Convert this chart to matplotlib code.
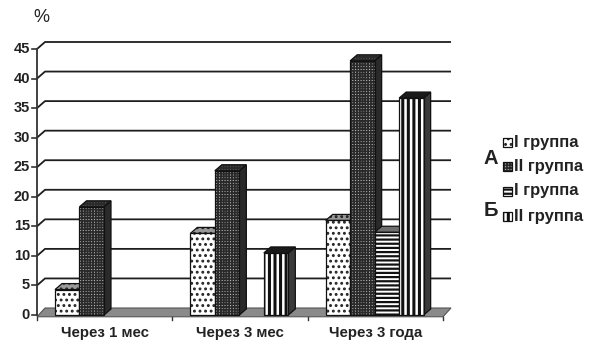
import matplotlib
matplotlib.use('Agg')
import matplotlib.pyplot as plt
from matplotlib.patches import Polygon, Rectangle

# ---------------- data ----------------
categories = ['Через 1 мес', 'Через 3 мес', 'Через 3 года']
a_group_1 = [4.3, 13.8, 16.0]      # А, I группа
a_group_2 = [18.3, 24.4, 43.0]     # А, II группа
b_group_1 = [None, None, 14.0]     # Б, I группа
b_group_2 = [None, 10.5, 36.7]     # Б, II группа
series_labels = ['I группа', 'II группа', 'I группа', 'II группа']
group_letters = ['А', 'Б']
y_ticks = [0, 5, 10, 15, 20, 25, 30, 35, 40, 45]
y_label = '%'

W, H = 595, 342
fig = plt.figure(figsize=(W / 100, H / 100), dpi=100)
# axes: x 0..3 -> px 37..443 ; y 0..45 -> px 315..49 (from top)
ax = fig.add_axes([37 / W, (H - 315) / H, 406 / W, 266 / H])
ax.set_xlim(0, 3)
ax.set_ylim(0, 45)
ax.axis('off')

px_x = 406 / 3.0
px_y = 266 / 45.0
wdx, wdy = 8 / px_x, 7 / px_y    # wall depth offset
bdx, bdy = 7 / px_x, 6 / px_y    # bar depth offset

dark = '#1e1e1e'
txt = '#222222'
fam = 'Liberation Sans'

# back-wall gridlines
for v in y_ticks[1:]:
    ax.plot([0, wdx, 3 + wdx], [v, v + wdy, v + wdy], color=dark, lw=1.3,
            clip_on=False, solid_capstyle='butt', zorder=1)

# floor
floor = Polygon([(0, -0.3), (3, -0.3), (3 + wdx, wdy), (wdx, wdy)], closed=True,
                facecolor='#8a8a8a', edgecolor='#555555', lw=0.8, clip_on=False, zorder=2)
ax.add_patch(floor)

# left axis and ticks
ax.plot([0, 0], [0, 45], color='#333333', lw=1.3, clip_on=False, zorder=3)
for v in y_ticks:
    ax.plot([-5 / px_x, 0], [v, v], color='#333333', lw=1.2, clip_on=False, zorder=3)
    ax.text(-7 / px_x, v, str(v), ha='right', va='center', fontsize=10.5,
            fontweight='bold', family=fam, color=txt)
for i in range(4):
    ax.plot([i, i], [-0.3, -5 / px_y], color='#333333', lw=1.0, clip_on=False, zorder=3)
for i, c in enumerate(categories):
    ax.text(i + 0.5, -18 / px_y, c, ha='center', va='center', fontsize=10.8,
            fontweight='bold', family=fam, color=txt)
fig.text(33 / W, 1 - 18 / H, y_label, ha='left', va='center', fontsize=13,
         family=fam, color=txt)

# styles: front face, hatch colour, hatch, top face, side face, hatch linewidth
styles = [
    dict(fc='white', hc='#222222', hatch='...', top='#9a9a9a', side='#7a7a7a', hlw=1.3),
    dict(fc='#b8b8b8', hc='#2a2a2a', hatch='++++++', top='#555555', side='#2a2a2a', hlw=1.2),
    dict(fc='white', hc='#111111', hatch='----', top='#6e6e6e', side='#333333', hlw=1.6),
    dict(fc='white', hc='#111111', hatch='|||', top='#1a1a1a', side='#3a3a3a', hlw=2.2),
]
series = [a_group_1, a_group_2, b_group_1, b_group_2]

slot = 0.181
start = 0.133


def face(verts, fc, hc=None, hatch=None, hlw=1.0, z=5):
    p = Polygon(verts, closed=True, facecolor=fc, edgecolor=hc if hatch else 'none',
                hatch=hatch, lw=0, zorder=z, clip_on=False)
    if hatch:
        try:
            p.set_hatch_linewidth(hlw)
        except AttributeError:
            pass
    ax.add_patch(p)
    ax.add_patch(Polygon(verts, closed=True, fill=False, edgecolor='#111111',
                         lw=0.9, zorder=z, clip_on=False))


z = 5
for i in range(len(categories)):
    for k, s in enumerate(series):
        v = s[i]
        if v is None:
            continue
        st = styles[k]
        x0 = i + start + k * slot
        x1 = x0 + slot
        front = [(x0, 0), (x1, 0), (x1, v), (x0, v)]
        top = [(x0, v), (x1, v), (x1 + bdx, v + bdy), (x0 + bdx, v + bdy)]
        side = [(x1, 0), (x1 + bdx, bdy), (x1 + bdx, v + bdy), (x1, v)]
        hh = st['hatch'] if k < 2 else None
        face(side, st['side'], st['hc'], hh, st['hlw'], z)
        face(top, st['top'], st['hc'], hh, st['hlw'], z + 0.1)
        face(front, st['fc'], st['hc'], st['hatch'], st['hlw'], z + 0.2)
        z += 1


# legend (figure pixel coordinates from top)
def fx(px):
    return px / W


def fy(py):
    return 1 - py / H


legend_rows = [142, 166, 191, 216]
for k, (lab, ry) in enumerate(zip(series_labels, legend_rows)):
    st = styles[k]
    r = Rectangle((fx(503), fy(ry + 4.5)), 9 / W, 9 / H, transform=fig.transFigure,
                  facecolor=st['fc'], edgecolor=st['hc'], hatch=st['hatch'], lw=0)
    try:
        r.set_hatch_linewidth(st['hlw'])
    except AttributeError:
        pass
    fig.add_artist(r)
    fig.add_artist(Rectangle((fx(503), fy(ry + 4.5)), 9 / W, 9 / H, transform=fig.transFigure,
                             fill=False, edgecolor='#111111', lw=0.9))
    fig.text(fx(514), fy(ry), lab, ha='left', va='center', fontsize=12,
             fontweight='bold', family=fam, color=txt)

for letter, ry in zip(group_letters, [158, 211]):
    fig.text(fx(484), fy(ry), letter, ha='left', va='center', fontsize=14.5,
             fontweight='bold', family=fam, color=txt)

fig.savefig('out.png', dpi=100)
